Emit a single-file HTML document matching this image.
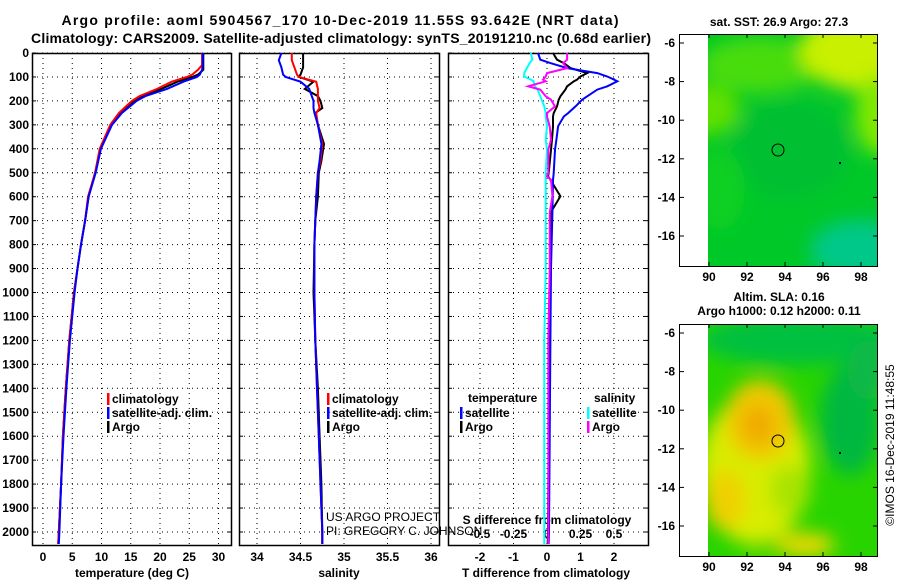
<!DOCTYPE html>
<html><head><meta charset="utf-8">
<style>
body{margin:0;background:#fff;}
svg{display:block;font-family:"Liberation Sans",Arial,sans-serif;}
.b{font-weight:bold;font-size:12px;}
.t{font-weight:bold;font-size:14px;}
</style></head>
<body>
<svg id="chart" width="900" height="580" viewBox="0 0 900 580">
<defs>
<filter id="bl" x="-50%" y="-50%" width="200%" height="200%"><feGaussianBlur stdDeviation="9"/></filter>
<clipPath id="c1"><rect x="708" y="34" width="169" height="232"/></clipPath>
<clipPath id="c2"><rect x="708" y="324" width="169" height="232"/></clipPath>
</defs>
<text class="t" x="340" y="25" text-anchor="middle" textLength="557">Argo profile: aoml 5904567_170 10-Dec-2019 11.55S 93.642E (NRT data)</text>
<text class="t" x="341" y="43" text-anchor="middle" textLength="620">Climatology: CARS2009. Satellite-adjusted climatology: synTS_20191210.nc (0.68d earlier)</text>
<g id="panels"></g>

<!-- SST map -->
<g>
<text class="b" x="779" y="26" text-anchor="middle">sat. SST: 26.9 Argo: 27.3</text>
<g clip-path="url(#c1)">
<rect x="708" y="34" width="169" height="232" fill="#00c828"/>
<g filter="url(#bl)">
<ellipse cx="705" cy="110" rx="35" ry="25" fill="#60e000"/>
<ellipse cx="760" cy="65" rx="60" ry="28" fill="#48dc10"/>
<ellipse cx="860" cy="50" rx="60" ry="40" fill="#c8f000"/>
<ellipse cx="880" cy="115" rx="25" ry="40" fill="#80e800"/>
<ellipse cx="790" cy="150" rx="60" ry="50" fill="#00c030"/>
<ellipse cx="860" cy="250" rx="50" ry="30" fill="#00c888"/>
<ellipse cx="720" cy="190" rx="25" ry="40" fill="#10d020"/>
</g></g>
<rect x="679.5" y="34.5" width="198" height="232" fill="none" stroke="#000"/>
<circle cx="778" cy="150" r="6" fill="none" stroke="#000"/>
<rect x="839" y="162" width="2" height="2" fill="#000"/>
<g id="ax1"></g>
</g>

<!-- SLA map -->
<g>
<text class="b" x="779" y="301" text-anchor="middle">Altim. SLA: 0.16</text>
<text class="b" x="779" y="315" text-anchor="middle">Argo h1000: 0.12 h2000: 0.11</text>
<g clip-path="url(#c2)">
<rect x="708" y="324" width="169" height="232" fill="#28d400"/>
<g filter="url(#bl)">
<ellipse cx="800" cy="340" rx="100" ry="25" fill="#00c040"/>
<ellipse cx="755" cy="470" rx="55" ry="75" fill="#d8ec00"/>
<ellipse cx="760" cy="420" rx="35" ry="40" fill="#f0c800"/>
<ellipse cx="758" cy="425" rx="15" ry="20" fill="#f0a800"/>
<ellipse cx="725" cy="500" rx="20" ry="30" fill="#f0d000"/>
<ellipse cx="805" cy="545" rx="30" ry="12" fill="#f0d800"/>
<ellipse cx="790" cy="490" rx="20" ry="25" fill="#a8e400"/>
<ellipse cx="850" cy="420" rx="30" ry="55" fill="#00b840"/>
<ellipse cx="868" cy="370" rx="20" ry="30" fill="#10b848"/>
<ellipse cx="760" cy="560" rx="15" ry="8" fill="#20d000"/>
</g></g>
<rect x="679.5" y="324.5" width="198" height="232" fill="none" stroke="#000"/>
<circle cx="778" cy="441" r="6" fill="none" stroke="#000"/>
<rect x="839" y="452" width="2" height="2" fill="#000"/>
<g id="ax2"></g>
</g>
<text x="894" y="445" font-size="12" text-anchor="middle" transform="rotate(-90 894 445)">©IMOS 16-Dec-2019 11:48:55</text>
<text x="326" y="521" font-size="12">US ARGO PROJECT</text>
<text x="326" y="535" font-size="12">PI: GREGORY C. JOHNSON</text>
</svg>
<script>
// ---- data ----
const tDepth=[0,50,70,90,100,120,150,180,200,250,300,400,500,600,700,800,900,1000,1200,1400,1600,1800,2000,2050];
const tClim=[27.2,27.2,26.5,25.5,24.6,22.0,19.5,16.5,15.2,13.0,11.5,9.7,8.9,7.7,7.2,6.5,5.9,5.3,4.5,3.9,3.4,3.1,2.7,2.6];
const tSat=[27.3,27.3,27.2,26.8,26.3,24.0,21.2,17.5,16.0,13.5,11.8,9.9,9.0,7.8,7.2,6.5,5.9,5.4,4.6,4.0,3.5,3.1,2.8,2.7];
const tArgo=[27.4,27.4,27.4,26.5,25.5,23.0,20.2,17.0,15.6,13.2,11.6,9.8,8.9,7.8,7.2,6.5,5.9,5.3,4.5,3.9,3.4,3.1,2.7,2.6];
const sDepth=[0,30,60,90,100,120,150,180,200,230,250,300,380,450,500,600,700,800,1000,1200,1400,1600,1800,2000,2050];
const sClim=[34.40,34.40,34.43,34.46,34.48,34.68,34.70,34.70,34.70,34.72,34.68,34.70,34.75,34.73,34.70,34.68,34.67,34.66,34.66,34.67,34.69,34.71,34.73,34.75,34.75];
const sSat=[34.28,34.25,34.28,34.30,34.33,34.50,34.60,34.63,34.65,34.65,34.66,34.70,34.74,34.72,34.70,34.68,34.67,34.66,34.66,34.67,34.69,34.71,34.73,34.75,34.75];
const sArgo=[34.53,34.53,34.53,34.50,34.48,34.65,34.55,34.70,34.73,34.75,34.67,34.70,34.77,34.74,34.71,34.70,34.67,34.66,34.65,34.67,34.70,34.72,34.74,34.75,34.75];
const dDepth=[0,28,42,63,84,98,111,118,139,153,181,195,223,251,265,306,362,404,501,515,529,598,668,900,1200,1600,2000,2050];
const dTSat=[-0.27,-0.2,0.1,0.6,1.5,1.8,2.0,2.1,1.8,1.5,1.2,1.05,0.85,0.63,0.5,0.33,0.28,0.24,0.2,0.19,0.18,0.17,0.16,0.12,0.1,0.08,0.06,0.05];
const dTArgo=[0.18,0.3,0.5,0.7,1.2,1.0,0.9,0.8,0.6,0.55,0.4,0.35,0.3,0.2,0.18,0.18,0.15,0.12,0.05,0.03,0.1,0.4,0.1,0.1,0.08,0.05,0.03,0.02];
const dSSat=[-0.12,-0.11,-0.13,-0.15,-0.17,-0.17,-0.12,-0.1,-0.09,-0.07,-0.05,-0.04,-0.02,-0.01,-0.01,0,-0.01,0,-0.01,-0.01,-0.01,-0.01,-0.01,-0.01,-0.02,-0.02,-0.02,-0.02];
const dSArgo=[0.15,0.15,0.12,0.15,0.0,-0.01,-0.03,-0.01,-0.14,-0.05,-0.01,0.03,0.06,0,0.0,0.02,0.03,0.01,0.01,0.0,0.03,0.04,0.02,0.02,0.01,0.01,0.01,0.01];
const depthTicks=[0,100,200,300,400,500,600,700,800,900,1000,1100,1200,1300,1400,1500,1600,1700,1800,1900,2000];
const tTicks=[0,5,10,15,20,25,30];
const sTicks=[34,34.5,35,35.5,36];
const sTickLabels=["34","34.5","35","35.5","36"];
const dTTicks=[-2,-1,0,1,2];
const dSTicks=[-0.5,-0.25,0,0.25,0.5];
const dSTickLabels=["-0.5","-0.25","0","0.25","0.5"];
const lonTicks=[90,92,94,96,98];
const latTicks=[-6,-8,-10,-12,-14,-16];

// ---- axes ----
const NS="http://www.w3.org/2000/svg";
const yTop=53, yBot=545;
const yS=d=>yTop+d*0.2395;
const xT=v=>43+v*5.85;
const xS=v=>257+(v-34)*87;
const xD=v=>547+v*33.5;
const xDS=v=>547+v*4*33.5;
const xLon=v=>709+(v-90)*19;
const root=document.getElementById('panels');
function mk(tag,attrs,parent){const e=document.createElementNS(NS,tag);for(const k in attrs)e.setAttribute(k,attrs[k]);(parent||root).appendChild(e);return e;}
function txt(x,y,s,cls,anchor,parent){const e=mk('text',{x:x,y:y,class:cls||'b','text-anchor':anchor||'middle'},parent);e.textContent=s;return e;}

const panels=[{x0:32,x1:231,name:'temperature-panel'},{x0:239,x1:439,name:'salinity-panel'},{x0:448,x1:648,name:'difference-panel'}];
panels.forEach((p,i)=>{
  const g=mk('g',{});
  
  
  depthTicks.forEach(d=>{
    const y=yS(d);
    mk('line',{x1:p.x0,x2:p.x1,y1:y,y2:y,stroke:'#000','stroke-dasharray':'1,4'},g);
    mk('line',{x1:p.x0,x2:p.x0+4,y1:y,y2:y,stroke:'#000'},g);
    mk('line',{x1:p.x1-4,x2:p.x1,y1:y,y2:y,stroke:'#000'},g);
  });
  let xs=i==0?tTicks.map(xT):i==1?sTicks.map(xS):dTTicks.map(xD);
  xs.forEach(x=>{mk('line',{x1:x,x2:x,y1:yTop,y2:yBot,stroke:'#000','stroke-dasharray':'1,4'},g);});
  mk('rect',{x:p.x0+0.5,y:yTop+0.5,width:p.x1-p.x0,height:yBot-yTop,fill:'none',stroke:'#000','stroke-width':1.5},g);
});
depthTicks.forEach(d=>{const e=txt(29,yS(d)+4,String(d),'b','end');
  
  });
tTicks.forEach(v=>{const e=txt(xT(v),561,String(v));
  
  });
sTicks.forEach((v,i)=>{const e=txt(xS(v),561,sTickLabels[i]);
  
  });
dTTicks.forEach(v=>{const e=txt(xD(v),561,String(v));
  
  });
dSTicks.forEach((v,i)=>{const e=txt(xDS(v),538,dSTickLabels[i]);
  
  });
let e;
e=txt(132,577,'temperature (deg C)');


e=txt(339,577,'salinity');


e=txt(546,577,'T difference from climatology');


e=txt(547,524,'S difference from climatology');



// map axes
[[document.getElementById('ax1'),34,43],[document.getElementById('ax2'),324,333]].forEach(([g,top,lat0])=>{
  const bot=top+232;
  lonTicks.forEach(v=>{
    const x=xLon(v);
    mk('line',{x1:x,x2:x,y1:top,y2:top+4,stroke:'#000'},g);
    mk('line',{x1:x,x2:x,y1:bot-4,y2:bot,stroke:'#000'},g);
    const t=txt(x,bot+15,String(v),'b','middle',g);
    
    
  });
  latTicks.forEach(v=>{
    const y=lat0+(-6-v)*19.3;
    mk('line',{x1:680,x2:684,y1:y,y2:y,stroke:'#000'},g);
    mk('line',{x1:873,x2:877,y1:y,y2:y,stroke:'#000'},g);
    const t=txt(675,y+4,String(v),'b','end',g);
    
    
  });
});

function line(xs,ds,fx,col,name,w){
  const pts=xs.map((v,i)=>fx(v).toFixed(1)+','+yS(ds[i]).toFixed(1)).join(' ');
  const l=mk('polyline',{points:pts,fill:'none',stroke:col,'stroke-width':w||2,'stroke-linejoin':'miter'});
  
  
}
line(tArgo,tDepth,xT,'#000','temperature-argo-line');
line(tClim,tDepth,xT,'#f00','temperature-climatology-line');
line(tSat,tDepth,xT,'#00f','temperature-satellite-line');
line(sArgo,sDepth,xS,'#000','salinity-argo-line');
line(sClim,sDepth,xS,'#f00','salinity-climatology-line');
line(sSat,sDepth,xS,'#00f','salinity-satellite-line');
line(dTArgo,dDepth,xD,'#000','t-diff-argo-line');
line(dTSat,dDepth,xD,'#00f','t-diff-satellite-line');
line(dSSat,dDepth,xDS,'#0ff','s-diff-satellite-line');
line(dSArgo,dDepth,xDS,'#f0f','s-diff-argo-line');

function legend(x,y,col,label){
  const g=mk('g',{});
  
  
  mk('rect',{x:x,y:y-9,width:2.5,height:12,fill:col},g);
  txt(x+5,y+1,label,'b','start',g);
}
legend(107,402,'#f00','climatology');
legend(107,416,'#00f','satellite-adj. clim.');
legend(107,430,'#000','Argo');
legend(327,402,'#f00','climatology');
legend(327,416,'#00f','satellite-adj. clim.');
legend(327,430,'#000','Argo');
e=txt(468,402,'temperature','b','start');


e=txt(594,402,'salinity','b','start');


legend(460,416,'#00f','satellite');
legend(460,430,'#000','Argo');
legend(587,416,'#0ff','satellite');
legend(587,430,'#f0f','Argo');
</script>
</body></html>
